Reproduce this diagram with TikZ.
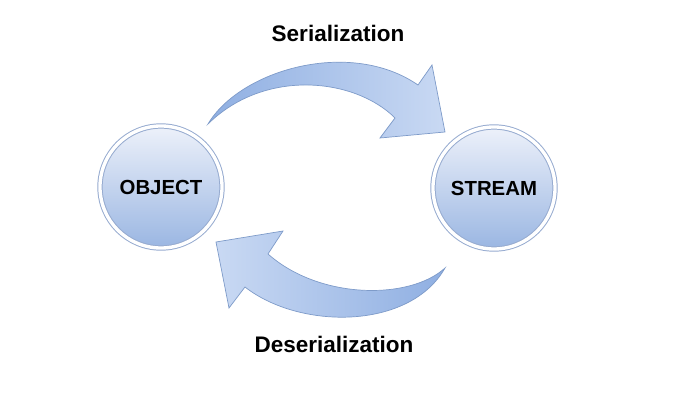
\documentclass[tikz,border=0pt]{standalone}
\usepackage{fontspec}
\setmainfont{Liberation Sans}
\usepackage{xcolor}
\usepackage{tikz}
\usetikzlibrary{positioning}

\definecolor{ringblue}{HTML}{96ABD0}
\definecolor{topblue}{HTML}{EDF1FA}
\definecolor{botblue}{HTML}{9AB6E2}
\definecolor{darkarrow}{HTML}{8FAFE2}
\definecolor{lightarrow}{HTML}{C9D9F3}
\definecolor{edgeblue}{HTML}{7E9BC9}

\begin{document}
\begin{tikzpicture}
			[x=0.025cm, y=-0.025cm,
			every node/.style={font=\fontsize{14.5}{17}\selectfont\bfseries, align=center},
			ball/.style={circle, minimum size=3.05cm, inner sep=0pt,
				draw=ringblue, line width=0.7pt, double=white, double distance=2.4pt,
				top color=topblue, bottom color=botblue},
			bigarrow/.style={draw=edgeblue, line width=0.5pt, line join=miter},
			caption/.style={font=\fontsize{16}{19}\selectfont\bfseries},
			]
			\useasboundingbox (0,0) rectangle (700,400);
			
			\node[ball] (obj) at (161,187) {OBJECT};
			\node[ball] (stream) at (494,188) {STREAM};
			
			% serialization arrow
			\path[bigarrow, left color=darkarrow, right color=lightarrow]
				(208,124) .. controls (240,70) and (350,38) .. (418,85)
				-- (432,65) -- (445,132) -- (380,138) -- (395,118)
				.. controls (355,78) and (265,68) .. (208,124) -- cycle;
			
			% deserialization arrow
			\path[bigarrow, left color=lightarrow, right color=darkarrow]
				(445,268) .. controls (410,330) and (300,330) .. (245,287)
				-- (229,308) -- (216,242) -- (283,231) -- (268,254)
				.. controls (320,300) and (410,300) .. (445,268) -- cycle;
			
			\node[caption] (ser) at (338,33) {Serialization};
			\node[caption] (deser) at (334,344) {Deserialization};
			%\node[caption] (mid) at (330,187) {};
		\end{tikzpicture}
\end{document}
